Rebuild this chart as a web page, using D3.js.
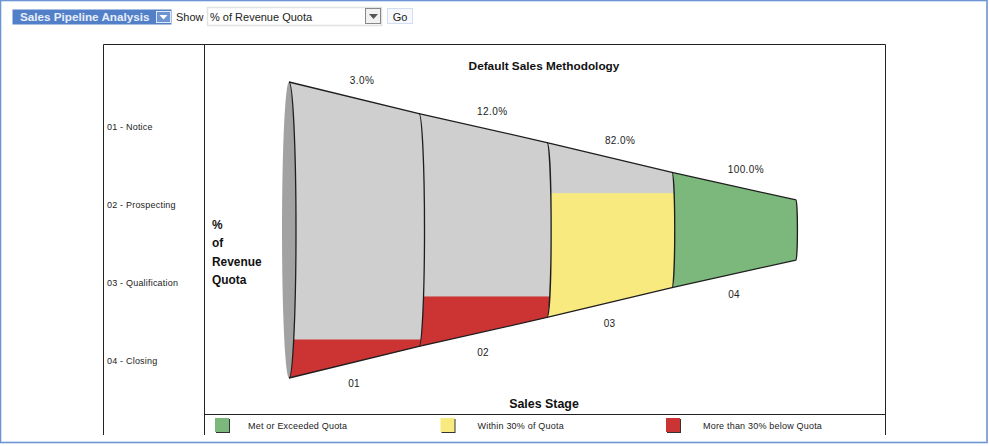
<!DOCTYPE html>
<html>
<head>
<meta charset="utf-8">
<script src="https://cdn.jsdelivr.net/npm/d3@7"></script>
<style>
  html, body { margin: 0; padding: 0; background: #fff; overflow: hidden; }
  svg { display: block; }
  text { font-family: "Liberation Sans", Arial, sans-serif; }
</style>
</head>
<body>
<div id="chart"></div>
<script>
// Pipeline stages and the share of revenue quota reached at each one
const stageCodes = ["01", "02", "03", "04"];
const stageNames = ["01 - Notice", "02 - Prospecting", "03 - Qualification", "04 - Closing"];
const quotaPercent = [3, 12, 82, 100];
const quotaStatus = ["below", "below", "within", "met"];

// Relative length of each stage along the funnel
const stageLength = [130, 128, 125, 124];
// Half-height of the funnel at each stage boundary, first edge = 100
const funnelRadius = [100, 78.7, 59.1, 38.9, 20.3];

const legendLabels = ["Met or Exceeded Quota", "Within 30% of Quota", "More than 30% below Quota"];
const legendStatus = ["met", "within", "below"];
const axisTitleLines = ["%", "of", "Revenue", "Quota"];

const statusColor = d3.scaleOrdinal()
  .domain(["met", "within", "below"])
  .range(["#7cb87c", "#f8ea7e", "#cc3333"]);

const width = 989, height = 446;
const svg = d3.select("#chart").append("svg").attr("width", width).attr("height", height);

// Window border
svg.append("rect").attr("x", 0.5).attr("y", 0.5).attr("width", 986.5).attr("height", 442)
  .attr("fill", "#fff").attr("stroke", "#6d94d3").attr("stroke-width", 1.6);

/* ---------- toolbar ---------- */
const bar = svg.append("g");
bar.append("rect").attr("x", 12.5).attr("y", 9.5).attr("width", 159).attr("height", 15)
  .attr("fill", "#5180c8");
bar.append("text").attr("x", 20).attr("y", 21).attr("fill", "#e8eefa")
  .attr("font-size", 11.7).attr("font-weight", "bold").text("Sales Pipeline Analysis");
bar.append("rect").attr("x", 156.5).attr("y", 11.5).attr("width", 14).attr("height", 11)
  .attr("fill", "#6d94d3").attr("stroke", "#dfe8f6");
bar.append("path").attr("d", d3.line()([[159.5, 15], [167.5, 15], [163.5, 19.5]])).attr("fill", "#fff");

bar.append("text").attr("x", 176).attr("y", 21).attr("fill", "#222").attr("font-size", 11).text("Show");

bar.append("rect").attr("x", 207.5).attr("y", 7.5).attr("width", 174).attr("height", 18)
  .attr("fill", "#fff").attr("stroke", "#e2e2e2").attr("stroke-width", 1.5);
bar.append("text").attr("x", 210).attr("y", 21).attr("fill", "#222").attr("font-size", 11).text("% of Revenue Quota");
bar.append("rect").attr("x", 365.5).attr("y", 8.5).attr("width", 15).attr("height", 15)
  .attr("fill", "#f1f1f1").attr("stroke", "#888");
bar.append("path").attr("d", d3.line()([[369, 14], [378, 14], [373.5, 19]])).attr("fill", "#555");

bar.append("rect").attr("x", 387.5).attr("y", 8.5).attr("width", 25).attr("height", 15)
  .attr("fill", "#f7f8fb").attr("stroke", "#d3dff2");
bar.append("text").attr("x", 400).attr("y", 21).attr("text-anchor", "middle").attr("fill", "#222")
  .attr("font-size", 11).text("Go");

/* ---------- chart frame ---------- */
const frameColor = "#222";
const frame = svg.append("g").attr("stroke", frameColor).attr("stroke-width", 1).attr("fill", "none");
frame.append("path").attr("d", "M103.5,435V44.5H885.5V435");
frame.append("path").attr("d", "M204.5,44.5V435");
frame.append("path").attr("d", "M204.5,414.5H885.5");

/* ---------- funnel ---------- */
const edgePositions = [0, ...d3.cumsum(stageLength)];
const xScale = d3.scaleLinear().domain([0, d3.sum(stageLength)]).range([289, 796]);
const x = i => xScale(edgePositions[i]);
const y = d3.scaleLinear().domain([-100, 100]).range([378, 82]);
const bulge = r => r * 0.07;

// Each edge of the funnel is an elliptical arc bowed towards the narrow end
const edgeArc = (i, reverse) => {
  const r = funnelRadius[i];
  const px = x(i), rx = bulge(r), ry = (y(-r) - y(r)) / 2;
  const to = reverse ? y(r) : y(-r);
  return `A${rx},${ry} 0 0 ${reverse ? 0 : 1} ${px},${to}`;
};
const stagePath = i =>
  `M${x(i)},${y(funnelRadius[i])}` +
  `L${x(i + 1)},${y(funnelRadius[i + 1])}` +
  edgeArc(i + 1, false) +
  `L${x(i)},${y(-funnelRadius[i])}` +
  edgeArc(i, true) + "Z";

const plot = svg.append("g");
const defs = svg.append("defs");

// Back of the funnel mouth
const mouth = funnelRadius[0];
plot.append("ellipse")
  .attr("cx", x(0)).attr("cy", y(0))
  .attr("rx", bulge(mouth)).attr("ry", (y(-mouth) - y(mouth)) / 2)
  .attr("fill", "#a2a2a2").attr("stroke", "none");

stageCodes.forEach((code, i) => {
  defs.append("clipPath").attr("id", `stage-${i}`)
    .append("path").attr("d", stagePath(i));

  plot.append("path").attr("d", stagePath(i)).attr("fill", "#cfcfcf");

  // Fill rises from the floor by the stage's share of its exit height;
  // a complete stage is filled right up to its entry edge
  const exitR = funnelRadius[i + 1];
  const level = quotaPercent[i] >= 100
    ? y(funnelRadius[i]) - 1
    : y(-exitR + 2 * exitR * quotaPercent[i] / 100);
  plot.append("rect")
    .attr("clip-path", `url(#stage-${i})`)
    .attr("x", x(i) - 2).attr("width", x(i + 1) - x(i) + 12)
    .attr("y", level).attr("height", y(-funnelRadius[i]) - level + 2)
    .attr("fill", statusColor(quotaStatus[i]));
});

// Outline and stage edges drawn above the fills
const outlineColor = "#1e1e1e";
const outline = plot.append("g").attr("fill", "none").attr("stroke", outlineColor).attr("stroke-width", 1.3);
funnelRadius.forEach((r, i) => {
  outline.append("path").attr("d", `M${x(i)},${y(r)}` + edgeArc(i, false));
});
outline.append("path").attr("d", d3.line().x((d, i) => x(i)).y(d => y(d))(funnelRadius));
outline.append("path").attr("d", d3.line().x((d, i) => x(i)).y(d => y(-d))(funnelRadius));

// Value labels above, stage codes below
const midRadius = i => (funnelRadius[i] + funnelRadius[i + 1]) / 2;
const midX = i => (x(i) + x(i + 1)) / 2;

svg.append("g").selectAll("text").data(quotaPercent).join("text")
  .attr("x", (d, i) => midX(i) + 8 + i * 1.3)
  .attr("y", (d, i) => y(midRadius(i)) - 13.5)
  .attr("text-anchor", "middle").attr("font-size", 10).attr("fill", "#222")
  .attr("letter-spacing", 0.4)
  .text(d => d.toFixed(1) + "%");

svg.append("g").selectAll("text").data(stageCodes).join("text")
  .attr("x", (d, i) => midX(i))
  .attr("y", (d, i) => y(-midRadius(i)) + 24.5)
  .attr("text-anchor", "middle").attr("font-size", 10).attr("fill", "#222")
  .attr("letter-spacing", 0.3)
  .text(d => d);

/* ---------- titles ---------- */
svg.append("text").attr("x", 544).attr("y", 70).attr("text-anchor", "middle")
  .attr("font-size", 11.8).attr("font-weight", "bold").attr("fill", "#111")
  .text("Default Sales Methodology");
svg.append("text").attr("x", 544).attr("y", 408).attr("text-anchor", "middle")
  .attr("font-size", 12.4).attr("font-weight", "bold").attr("fill", "#111")
  .text("Sales Stage");

const titleY = d3.scalePoint().domain(axisTitleLines).range([229, 284]);
svg.append("g").selectAll("text").data(axisTitleLines).join("text")
  .attr("x", 212).attr("y", d => titleY(d))
  .attr("font-size", 11.9).attr("font-weight", "bold").attr("fill", "#111")
  .text(d => d);

/* ---------- stage list ---------- */
const listY = d3.scalePoint().domain(stageNames).range([130, 364]);
svg.append("g").selectAll("text").data(stageNames).join("text")
  .attr("x", 107).attr("y", d => listY(d))
  .attr("font-size", 9).attr("fill", "#222").attr("letter-spacing", 0.2)
  .text(d => d);

/* ---------- legend ---------- */
const legendX = d3.scalePoint().domain(legendLabels).range([215, 666]);
const legendTextGap = [33, 37, 37];
const legend = svg.append("g").selectAll("g").data(legendLabels).join("g")
  .attr("transform", d => `translate(${legendX(d)},418)`);
legend.append("rect").attr("x", 1).attr("y", 1).attr("width", 14).attr("height", 14).attr("fill", "#333");
legend.append("rect").attr("width", 14).attr("height", 14)
  .attr("fill", (d, i) => statusColor(legendStatus[i]));
legend.append("text").attr("x", (d, i) => legendTextGap[i]).attr("y", 10.5)
  .attr("font-size", 9).attr("fill", "#222").attr("letter-spacing", 0.2)
  .text(d => d);
</script>
</body>
</html>
